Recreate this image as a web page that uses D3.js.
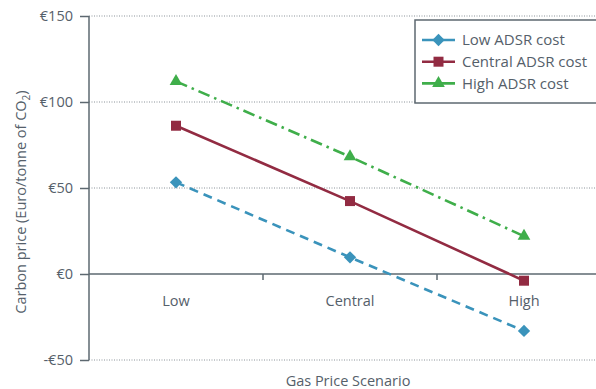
<!DOCTYPE html>
<html><head><meta charset="utf-8">
<script src="https://cdn.jsdelivr.net/npm/d3@7"></script>
<style>body{margin:0;background:#fff}svg{display:block}text{font-family:"Open Sans",sans-serif;fill:#55606a}</style>
</head><body><svg id="c" width="596" height="389"></svg>
<script>
const categories = ["Low", "Central", "High"];
const seriesNames = ["Low ADSR cost", "Central ADSR cost", "High ADSR cost"];
const lowADSR = [53.3, 9.7, -33.1];
const centralADSR = [86.2, 42.4, -3.9];
const highADSR = [112, 68.2, 22];
const yTicks = [-50, 0, 50, 100, 150];
const yTickLabels = ["-€50", "€0", "€50", "€100", "€150"];

const svg = d3.select("#c");
const axisCol = "#5d6870";
const x = d3.scaleBand().domain(categories).range([89, 611]).padding(0);
const y = d3.scaleLinear().domain([-50, 150]).range([360, 16]);

// gridlines
svg.append("g").selectAll("line").data(yTicks.filter(d => d !== 0)).join("line")
  .attr("x1", 89).attr("x2", 596).attr("y1", d => y(d)).attr("y2", d => y(d))
  .attr("stroke", "#8a9299").attr("stroke-width", 1).attr("stroke-dasharray", "1,1.5");

// y axis
const yAxis = d3.axisLeft(y).tickValues(yTicks).tickSize(9).tickFormat((d, i) => yTickLabels[i]);
const gy = svg.append("g").attr("transform", "translate(89,0)").call(yAxis);
gy.select(".domain").attr("stroke", axisCol).attr("stroke-width", 1.5).attr("d", "M0,16V360");
gy.selectAll(".tick line").attr("stroke", axisCol).attr("stroke-width", 1.5);
gy.selectAll(".tick text").attr("x", -16).attr("font-size", 14.5).attr("fill", "#55606a")
  .style("font-family", '"Open Sans",sans-serif');

// x axis at zero
const xAxis = d3.axisBottom(x).tickSize(0).tickSizeOuter(0);
const gx = svg.append("g").attr("transform", `translate(0,${y(0)})`).call(xAxis);
gx.select(".domain").attr("stroke", axisCol).attr("stroke-width", 1.5).attr("d", "M89,0H596");
gx.selectAll(".tick text").attr("y", 22).attr("dy", "0.71em").attr("font-size", 14.5).attr("fill", "#55606a")
  .style("font-family", '"Open Sans",sans-serif');
// band boundary ticks
const bounds = categories.slice(1).map(c => x(c));
gx.append("g").selectAll("line").data(bounds).join("line")
  .attr("x1", d => d).attr("x2", d => d).attr("y1", 0).attr("y2", 6)
  .attr("stroke", axisCol).attr("stroke-width", 1.5);

// titles
svg.append("text").attr("transform", "translate(26,202) rotate(-90)").attr("text-anchor", "middle")
  .attr("font-size", 14.5).html('Carbon price (Euro/tonne of CO<tspan font-size="10" dy="4">2</tspan><tspan dy="-4">)</tspan>');
svg.append("text").attr("x", 348).attr("y", 386).attr("text-anchor", "middle").attr("font-size", 14.5)
  .text("Gas Price Scenario");

// series
const series = [
  {name: seriesNames[0], values: lowADSR, color: "#3a93bb", dash: "9,6", sym: d3.symbolSquare, size: 76, rot: 45},
  {name: seriesNames[1], values: centralADSR, color: "#922b42", dash: null, sym: d3.symbolSquare, size: 100, rot: 0},
  {name: seriesNames[2], values: highADSR, color: "#3fae4a", dash: "12,5,2.5,5", sym: d3.symbolTriangle, size: 70, rot: 0}
];
const cx = c => x(c) + x.bandwidth() / 2;
const line = d3.line().x((d, i) => cx(categories[i])).y(d => y(d));
series.forEach(s => {
  svg.append("path").attr("d", line(s.values)).attr("fill", "none").attr("stroke", s.color)
    .attr("stroke-width", 2.6).attr("stroke-dasharray", s.dash);
  svg.append("g").selectAll("path").data(s.values).join("path")
    .attr("transform", (d, i) => `translate(${cx(categories[i])},${y(d)}) rotate(${s.rot})`)
    .attr("d", d3.symbol().type(s.sym).size(s.size)).attr("fill", s.color);
});

// legend
const lg = svg.append("g");
lg.append("rect").attr("x", 415).attr("y", 20).attr("width", 200).attr("height", 83)
  .attr("fill", "#fff").attr("stroke", axisCol).attr("stroke-width", 1.5);
series.forEach((s, i) => {
  const ly = 40 + i * 21.7;
  lg.append("line").attr("x1", 422).attr("x2", 455).attr("y1", ly).attr("y2", ly)
    .attr("stroke", s.color).attr("stroke-width", 2.6);
  lg.append("path").attr("transform", `translate(438.5,${ly}) rotate(${s.rot})`)
    .attr("d", d3.symbol().type(s.sym).size(s.size)).attr("fill", s.color);
  lg.append("text").attr("x", 462).attr("y", ly).attr("dy", "0.36em").attr("font-size", 15).text(s.name);
});
</script></body></html>
